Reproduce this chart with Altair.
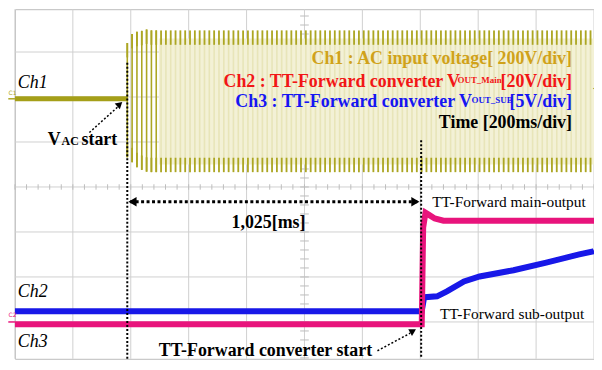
import altair as alt
import pandas as pd

# ---------------- data (time in ms, level in scope divisions) ----------------
grid_t = [0, 200, 400, 600, 800, 1000, 1200, 1400, 1600, 1800, 2000]
grid_div = [-4, -3, -2, -1, 0, 1, 2, 3, 4]

# Ch1: AC input (flat before start, then 60 Hz mains)
ch1_flat_t = [0, 388]
ch1_flat_v = [1.96, 1.96]
ac_start_ms = 388
ac_freq_hz = 60
ac_top_transient = [3.20, 3.40, 3.45, 3.47, 3.50, 3.48, 3.48]
ac_bot_transient = [0.66, 0.55, 0.44, 0.38, 0.34, 0.33, 0.33]
ac_top_steady = 3.48
ac_bot_steady = 0.33
band_t = [497, 2000]
band_v = [3.30, 0.50]

# Ch2: main output (pink)
ch2_t = [0, 1405, 1410, 1418, 1430, 1450, 1480, 2000]
ch2_v = [-3.05, -3.05, -0.90, -0.57, -0.62, -0.70, -0.75, -0.75]

# Ch3: sub output (blue)
ch3_t = [0, 1405, 1412, 1417, 1458, 1492, 1551, 1605, 1722, 1835, 1949, 1997, 2000]
ch3_v = [-2.76, -2.76, -2.50, -2.45, -2.43, -2.32, -2.10, -1.99, -1.85, -1.68, -1.50, -1.43, -1.42]

vac_start_ms = 388
conv_start_ms = 1403

legend_lines = ["Ch1 : AC input voltage[ 200V/div]",
                "Ch2 : TT-Forward converter V", "OUT_Main", "[20V/div]",
                "Ch3 : TT-Forward converter V", "OUT_SUB", "[5V/div]",
                "Time [200ms/div]"]

# ---------------- styling ----------------
SERIF = "Liberation Serif"
OLIVE = "#aca623"
OLIVE_TXT = "#d0a21a"
PINK = "#e8147c"
BLUE = "#1818e8"
GRID = "#d0d0d0"

PLOT_H = 352
Y_TOP = (187 - 8) / 45.3
Y_BOT = (187 - 8 - PLOT_H) / 45.3
XS = alt.Scale(domain=[0, 2000], nice=False, zero=False)
YS = alt.Scale(domain=[Y_BOT, Y_TOP], nice=False, zero=False)


def X(f):
    return alt.X(f, type="quantitative", scale=XS, axis=None)


def Y(f):
    return alt.Y(f, type="quantitative", scale=YS, axis=None)


layers = []

# grid
layers.append(alt.Chart(pd.DataFrame({"t": grid_t})).mark_rule(color=GRID, strokeWidth=1).encode(x=X("t")))
layers.append(alt.Chart(pd.DataFrame({"v": grid_div})).mark_rule(color=GRID, strokeWidth=1).encode(y=Y("v")))
# minor ticks on centre lines
mt = [i * 40 for i in range(51)]
layers.append(alt.Chart(pd.DataFrame({"t": mt, "a": [-0.06] * len(mt), "b": [0.06] * len(mt)}))
              .mark_rule(color="#bdbdbd", strokeWidth=1).encode(x=X("t"), y=Y("a"), y2="b"))
mv = [round(-3.8 + i * 0.2, 2) for i in range(39)]
layers.append(alt.Chart(pd.DataFrame({"v": mv, "a": [985] * len(mv), "b": [1015] * len(mv)}))
              .mark_rule(color="#bdbdbd", strokeWidth=1).encode(y=Y("v"), x=X("a"), x2="b"))

# Ch1 pale persistence band
layers.append(alt.Chart(pd.DataFrame({"t0": [band_t[0]], "t1": [band_t[1]], "v0": [band_v[0]], "v1": [band_v[1]]}))
              .mark_rect(color="#f3f1d6").encode(x=X("t0"), x2="t1", y=Y("v0"), y2="v1"))

# Ch1 cycles
period = 1000.0 / ac_freq_hz
rows = []
i = 0
while ac_start_ms + i * period <= 2000:
    if i < len(ac_top_transient):
        top, bot, op = ac_top_transient[i], ac_bot_transient[i], 1.0
    else:
        top, bot, op = ac_top_steady, ac_bot_steady, 0.16
    rows.append({"t": ac_start_ms + i * period, "top": top, "bot": bot, "op": op,
                 "tcap": top - 0.32, "bcap": bot + 0.32})
    i += 1
cyc = pd.DataFrame(rows)
layers.append(alt.Chart(cyc).mark_rule(color=OLIVE, strokeWidth=1.6).encode(
    x=X("t"), y=Y("bot"), y2="top", opacity=alt.Opacity("op:Q", scale=None)))
layers.append(alt.Chart(cyc).mark_rule(color=OLIVE, strokeWidth=1.8).encode(x=X("t"), y=Y("tcap"), y2="top"))
layers.append(alt.Chart(cyc).mark_rule(color=OLIVE, strokeWidth=1.8).encode(x=X("t"), y=Y("bot"), y2="bcap"))

# Ch1 flat
layers.append(alt.Chart(pd.DataFrame({"t": ch1_flat_t, "v": ch1_flat_v})).mark_line(color="#a59f18", strokeWidth=5)
              .encode(x=X("t"), y=Y("v")))

# Ch3 and Ch2
layers.append(alt.Chart(pd.DataFrame({"t": ch3_t, "v": ch3_v})).mark_line(color=BLUE, strokeWidth=6)
              .encode(x=X("t"), y=Y("v")))
layers.append(alt.Chart(pd.DataFrame({"t": ch2_t, "v": ch2_v})).mark_line(color=PINK, strokeWidth=6)
              .encode(x=X("t"), y=Y("v")))

# dotted vertical markers
layers.append(alt.Chart(pd.DataFrame({"t": [vac_start_ms, conv_start_ms], "a": [2.76, 1.04], "b": [Y_BOT, Y_BOT]}))
              .mark_rule(color="black", strokeWidth=2, strokeDash=[2, 2]).encode(x=X("t"), y=Y("a"), y2="b"))

# double arrow
layers.append(alt.Chart(pd.DataFrame({"a": [vac_start_ms + 10], "b": [conv_start_ms - 12], "v": [-0.33]}))
              .mark_rule(color="black", strokeWidth=3, strokeDash=[3, 2.5]).encode(x=X("a"), x2="b", y=Y("v")))
layers.append(alt.Chart(pd.DataFrame({"t": [vac_start_ms + 18], "v": [-0.33]}))
              .mark_point(shape="triangle-left", filled=True, color="black", size=90, opacity=1).encode(x=X("t"), y=Y("v")))
layers.append(alt.Chart(pd.DataFrame({"t": [conv_start_ms - 20], "v": [-0.33]}))
              .mark_point(shape="triangle-right", filled=True, color="black", size=90, opacity=1).encode(x=X("t"), y=Y("v")))

# thin dotted pointer arrows
layers.append(alt.Chart(pd.DataFrame({"t": [257, 1252], "v": [1.21, -3.64], "t2": [357, 1365], "v2": [1.79, -3.25]}))
              .mark_rule(color="black", strokeWidth=1.5, strokeDash=[2, 2]).encode(x=X("t"), y=Y("v"), x2="t2", y2="v2"))
layers.append(alt.Chart(pd.DataFrame({"t": [362], "v": [1.84]}))
              .mark_point(shape="triangle-up", filled=True, color="black", size=60, angle=48, opacity=1).encode(x=X("t"), y=Y("v")))
layers.append(alt.Chart(pd.DataFrame({"t": [1375], "v": [-3.2]}))
              .mark_point(shape="triangle-up", filled=True, color="black", size=60, angle=61, opacity=1).encode(x=X("t"), y=Y("v")))

# channel markers
layers.append(alt.Chart(pd.DataFrame({"t": [-23, -23], "t2": [0, 0], "v": [1.96, -3.0]}))
              .mark_rule(strokeWidth=1.5).encode(x=X("t"), x2="t2", y=Y("v"),
                                                 color=alt.Color("v:N", scale=alt.Scale(domain=[1.96, -3.0], range=[OLIVE, PINK]), legend=None)))
layers.append(alt.Chart(pd.DataFrame({"t": [2003], "v": [2.19]}))
              .mark_point(shape="triangle-left", filled=True, color=OLIVE, size=25, opacity=1).encode(x=X("t"), y=Y("v")))


def label(t, v, text, size, color="black", weight="normal", style="normal", align="left", font=SERIF):
    df = pd.DataFrame({"t": [t], "v": [v], "s": [text]})
    return alt.Chart(df).mark_text(align=align, baseline="alphabetic", fontSize=size, fontWeight=weight,
                                   fontStyle=style, color=color, font=font).encode(x=X("t"), y=Y("v"), text="s:N")


layers += [
    label(-22, 2.05, "C1", 6, OLIVE, font="DejaVu Sans"),
    label(-22, -2.9, "C2", 6, PINK, font="DejaVu Sans"),
    label(10, 2.21, "Ch1", 18, style="italic"),
    label(10, -2.45, "Ch2", 18, style="italic"),
    label(10, -3.55, "Ch3", 18, style="italic"),
    label(113, 0.93, "V", 18, weight="bold"),
    label(161, 0.93, "AC", 12, weight="bold"),
    label(230, 0.93, "start", 18, weight="bold"),
    label(748, -0.905, "1,025[ms]", 18, weight="bold"),
    label(1441, -0.44, "TT-Forward main-output", 15.5),
    label(1468, -2.94, "TT-Forward sub-output", 15.5),
    label(497, -3.75, "TT-Forward converter start", 18, weight="bold"),
    label(1924, 2.74, legend_lines[0], 18, OLIVE_TXT, weight="bold", align="right"),
    label(1537, 2.23, legend_lines[1], 18, "#f21616", weight="bold", align="right"),
    label(1681, 2.32, legend_lines[2], 9, "#f21616", weight="bold", align="right"),
    label(1924, 2.23, legend_lines[3], 18, "#f21616", weight="bold", align="right"),
    label(1578, 1.77, legend_lines[4], 18, "#1616f2", weight="bold", align="right"),
    label(1719, 1.86, legend_lines[5], 9, "#1616f2", weight="bold", align="right"),
    label(1924, 1.77, legend_lines[6], 18, "#1616f2", weight="bold", align="right"),
    label(1924, 1.30, legend_lines[7], 18, "black", weight="bold", align="right"),
]

chart = alt.layer(*layers).properties(
    width=583, height=PLOT_H,
    padding={"left": 7, "top": 0, "right": 0, "bottom": 0},
    autosize=alt.AutoSizeParams(type="none"),
).configure_view(stroke="#bcbcbc", strokeWidth=1)

chart.save("out.html", embed_options={"renderer": "svg", "actions": False})
